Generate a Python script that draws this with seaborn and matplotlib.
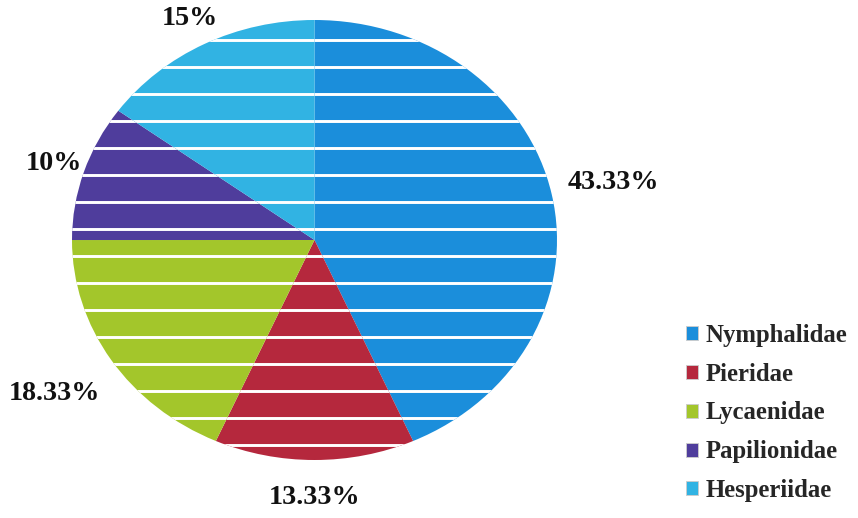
import matplotlib
matplotlib.use("Agg")
import matplotlib.pyplot as plt
import matplotlib.patches as mpatches
import numpy as np
import seaborn as sns

families = ["Nymphalidae", "Pieridae", "Lycaenidae", "Papilionidae", "Hesperiidae"]
shares = [43.33, 13.33, 18.33, 10.0, 15.0]
share_labels = ["43.33%", "13.33%", "18.33%", "10%", "15%"]
colors_hex = ["#1b8edb", "#b5283d", "#a3c62b", "#4f3d9c", "#31b3e3"]

# layout: radial distance of each percentage label
label_radius = [1.26, 1.17, 1.28, 1.13, 1.13]

sns.set_theme(style="white")
plt.rcParams["font.family"] = ["Liberation Serif", "DejaVu Serif"]
plt.rcParams["hatch.linewidth"] = 1.3
plt.rcParams["hatch.color"] = "white"

palette = sns.color_palette(colors_hex)

DPI = 162
fig = plt.figure(figsize=(858 / DPI, 518 / DPI), dpi=DPI)
ax = fig.add_axes([72 / 858, 58 / 518, 485 / 858, 440 / 518])

wedges, texts = ax.pie(
    shares,
    labels=share_labels,
    colors=palette,
    startangle=90,
    counterclock=False,
    labeldistance=1.17,
    wedgeprops=dict(edgecolor="white", linewidth=0, hatch="-"),
    textprops=dict(fontsize=12.5, fontweight="bold", color="#111111"),
)
for w, t, r in zip(wedges, texts, label_radius):
    mid = np.deg2rad((w.theta1 + w.theta2) / 2)
    t.set_position((r * np.cos(mid), r * np.sin(mid)))
    t.set_ha("center")
    t.set_va("center")
ax.set_aspect("auto")
ax.set_xlim(-1, 1)
ax.set_ylim(-1, 1)

handles = [mpatches.Patch(facecolor=c, edgecolor="#cccccc", linewidth=0.4) for c in palette]
fig.legend(
    handles, families,
    loc="center left",
    bbox_to_anchor=(686 / 858, 1 - 413 / 518),
    frameon=False,
    prop=dict(size=11, weight="bold"),
    handlelength=0.5, handleheight=0.5, handletextpad=0.3,
    labelspacing=0.64, borderaxespad=0, borderpad=0,
)

fig.savefig("out.png", dpi=DPI, facecolor="white")
